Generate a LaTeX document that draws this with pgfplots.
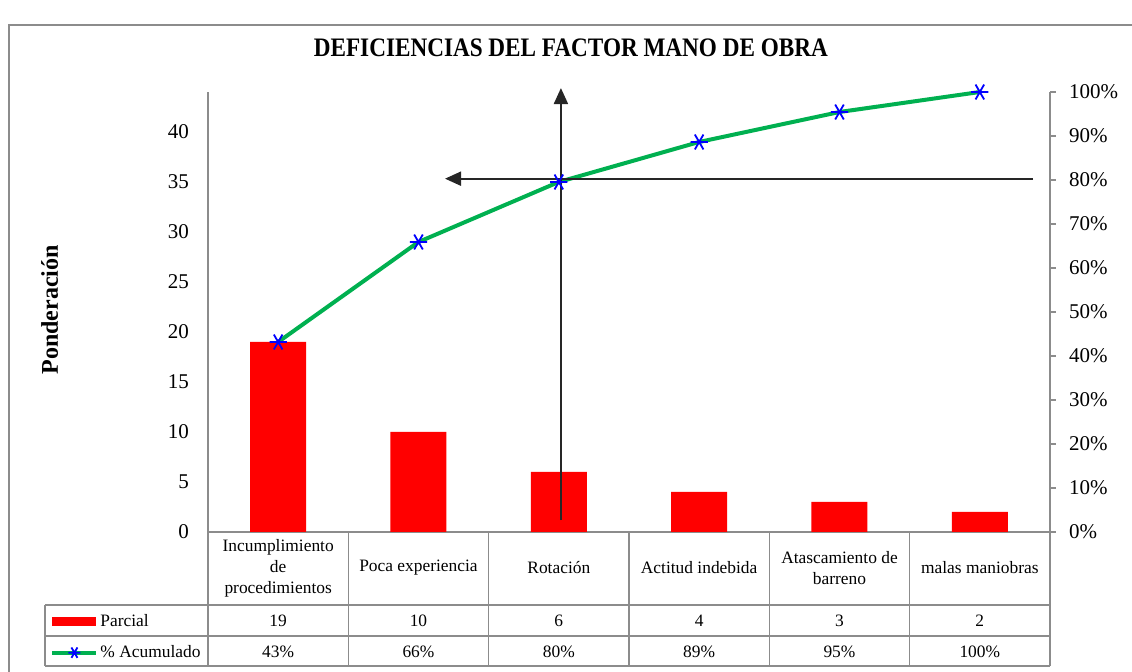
\documentclass[border=0pt]{standalone}
\usepackage{pgfplots}
\pgfplotsset{compat=1.18}
\usepackage{pgfplotstable}
\usepackage{fontspec}
\setmainfont{Liberation Serif}
\usetikzlibrary{arrows.meta}
\definecolor{exgreen}{HTML}{00B050}
\definecolor{axgray}{HTML}{8C8C8C}

\pgfplotstableread{
x val pct
0 19 43.18
1 10 65.91
2 6 79.55
3 4 88.64
4 3 95.45
5 2 100
}\datatable

\begin{document}
\begin{tikzpicture}
\begin{scope}[x=0.5pt,y=-0.5pt]
\path[use as bounding box] (0,0) rectangle (1132,672);
\draw[axgray, line width=0.8pt] (9,700) -- (9,25) -- (1150,25);
\end{scope}

\begin{axis}[
  at={(104pt,-266pt)}, anchor=south west,
  width=421pt, height=220pt, scale only axis,
  xmin=-0.5, xmax=5.5, ymin=0, ymax=44,
  axis x line*=bottom, axis y line*=left,
  axis line style={axgray, line width=0.8pt},
  xtick={0,1,2,3,4,5},
  xticklabels={{Incumplimiento\\de\\procedimientos},{Poca experiencia},{Rotación},{Actitud indebida},{Atascamiento de\\barreno},{malas maniobras}},
  xticklabel style={font=\fontsize{8.7}{10.5}\selectfont, align=center, anchor=center, yshift=-18pt},
  ytick={0,5,...,40}, major tick length=0pt,
  yticklabel style={font=\fontsize{10.5}{12}\selectfont, xshift=-6pt},
  /pgf/number format/assume math mode=true,
  ylabel={Ponderación},
  ylabel style={at={(axis description cs:-0.188,0.505)}, anchor=center, rotate=0, font=\fontsize{12}{14}\selectfont\bfseries},
  title={\scalebox{1}[1.15]{DEFICIENCIAS DEL FACTOR MANO DE OBRA}},
  title style={at={(axis description cs:0.431,1.074)}, anchor=center, font=\fontsize{11.6}{14}\selectfont\bfseries},
  clip=false,
]
\addplot[ybar, bar width=28pt, fill=red, draw=none] table[x=x,y=val]{\datatable};
% table values row
\addplot[draw=none, mark=none, nodes near coords, point meta=explicit,
  nodes near coords style={font=\fontsize{8.7}{10.5}\selectfont, anchor=center, yshift=-44.5pt},
  /pgf/number format/assume math mode=true]
  table[x=x, y expr=0, meta=val]{\datatable};
\addplot[draw=none, mark=none, nodes near coords={\pgfmathprintnumber[fixed,precision=0]{\pgfplotspointmeta}\%}, point meta=explicit,
  nodes near coords style={font=\fontsize{8.7}{10.5}\selectfont, anchor=center, yshift=-60pt},
  /pgf/number format/assume math mode=true]
  table[x=x, y expr=0, meta=pct]{\datatable};
\end{axis}

\begin{axis}[
  at={(104pt,-266pt)}, anchor=south west,
  width=421pt, height=220pt, scale only axis,
  xmin=-0.5, xmax=5.5, ymin=0, ymax=100,
  axis x line=none, axis y line*=right,
  axis line style={axgray, line width=0.8pt},
  ytick={0,10,...,100}, tick align=outside, major tick length=3pt,
  tick style={axgray, line width=0.8pt},
  yticklabel={\pgfmathprintnumber{\tick}\%},
  yticklabel style={font=\fontsize{10.5}{12}\selectfont, xshift=3pt},
  /pgf/number format/assume math mode=true,
  legend style={at={(axis description cs:-0.1876,-0.179)}, anchor=north west, draw=none, fill=none,
    inner sep=0pt, row sep=5pt, font=\fontsize{8.7}{10.5}\selectfont,
    nodes={inner sep=1pt, text height=6.5pt, text depth=2pt}},
  legend cell align=left,
  clip=false,
]
\addlegendimage{legend image code/.code={\fill[red] (0pt,-2pt) rectangle (21.5pt,2pt);}}
\addlegendentry{Parcial}
\addplot[exgreen, line width=2pt, mark=asterisk, mark size=4.3pt,
  mark options={blue, line width=0.9pt, rotate=90},
  legend image code/.code={\draw[mark repeat=2,mark phase=2,mark size=3pt] plot coordinates {(0pt,0pt)(11pt,0pt)(22pt,0pt)};}]
  table[x=x,y=pct]{\datatable};
\addlegendentry{\% Acumulado}
\draw[black!85, line width=1pt, -{Triangle[length=8pt,width=7pt]}] (axis cs:2.015,2.7) -- (axis cs:2.015,100.9);
\draw[black!85, line width=1pt, -{Triangle[length=8pt,width=7pt]}] (axis cs:5.379,80.3) -- (axis cs:1.189,80.3);
\end{axis}

% data table grid
\begin{scope}[x=0.5pt,y=-0.5pt,axgray, line width=0.8pt]
\draw (45,605) -- (1050,605);
\draw (45,636) -- (1050,636);
\draw (45,666) -- (1050,666);
\draw (45,605) -- (45,666);
\foreach \xx in {208,348.33,488.67,629,769.33,909.67,1050} {\draw (\xx,532) -- (\xx,666);}
\end{scope}
\end{tikzpicture}
\end{document}
